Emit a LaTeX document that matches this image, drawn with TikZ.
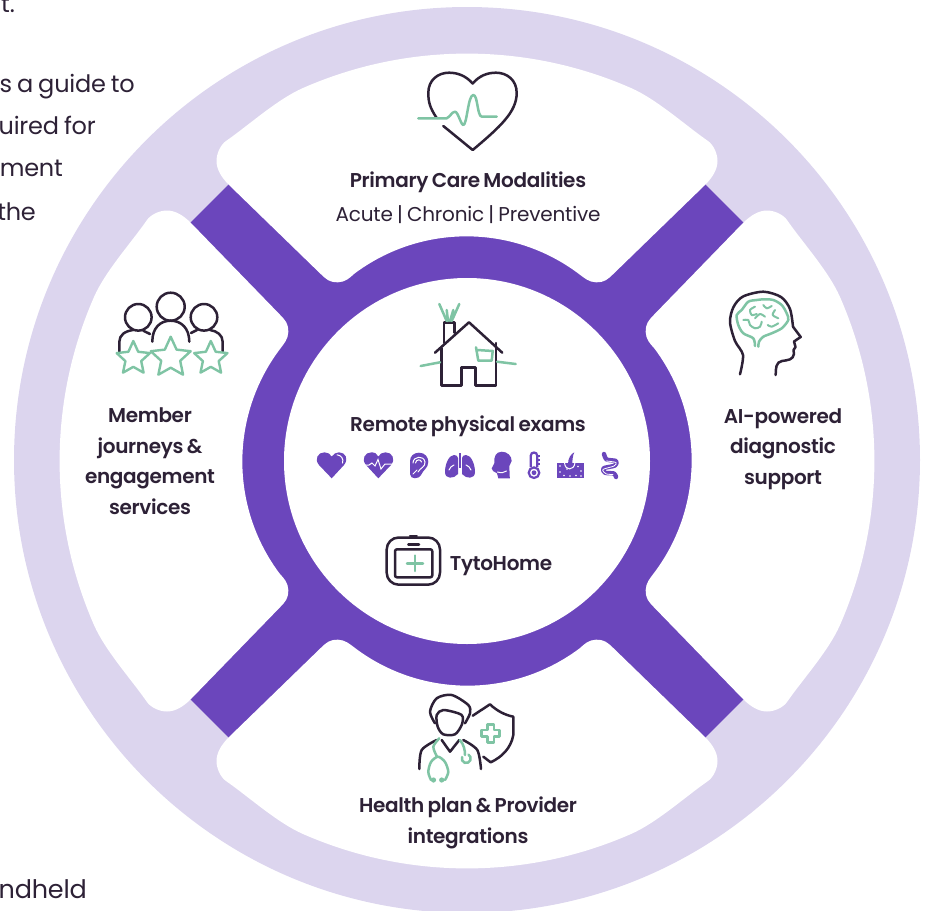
\documentclass[tikz,border=0pt]{standalone}
\usepackage{fontspec}
\setmainfont[LetterSpace=-0.9,WordSpace=0.8]{Poppins}
\newfontfamily\medfont[LetterSpace=-1.6,WordSpace=0.75]{Poppins SemiBold}
\usetikzlibrary{shapes.geometric}
\definecolor{wheelpurple}{HTML}{6B46BC}
\definecolor{wheellilac}{HTML}{DCD5EE}
\definecolor{icondark}{HTML}{2D2136}
\definecolor{icongreen}{HTML}{7FC4A4}
\tikzset{
	darkline/.style={draw=icondark,line width=2.5pt,line cap=round,line join=round},
	greenline/.style={draw=icongreen,line width=2.5pt,line cap=round,line join=round},
	smallfill/.style={fill=wheelpurple,draw=none},
	whitecut/.style={draw=white,line width=1pt,line cap=round},
	headtext/.style={text=icondark,font=\medfont\fontsize{20}{30.5}\selectfont,align=center,inner sep=0pt},
	subtext/.style={text=icondark,font=\fontsize{20}{30.5}\selectfont,inner sep=0pt},
	backtext/.style={text=icondark,font=\fontsize{24}{30}\selectfont,inner sep=0pt,anchor=base east},
	ratestar/.style={star,star points=5,star point ratio=2.1,draw=icongreen,line width=2.4pt,line join=round,inner sep=0pt},
}
\begin{document}
\begin{tikzpicture}[x=1pt,y=-1pt]
	\useasboundingbox (0,0) rectangle (930,911);
	% cut off text behind the wheel
	\node[backtext] (backa) at (15,12) {t.};
	\node[backtext] (backb) at (135,92) {s a guide to};
	\node[backtext] (backc) at (96,134) {uired for};
	\node[backtext] (backd) at (63,176) {ment};
	\node[backtext] (backe) at (36,220) {the};
	\node[backtext,font=\fontsize{25.5}{30}\selectfont] (backf) at (87,898) {ndheld};

	% the wheel
	\fill[wheellilac] (467,460) circle (453);
	\begin{scope}[shift={(467,461)}]
		\fill[wheelpurple] (0,0) circle (240);
		\foreach \a in {45,135}
			\fill[wheelpurple,rotate=\a] (-364,-29) rectangle (364,29);
		\foreach \a in {0,90,180,270}
			\fill[white,rotate=\a] (-238,-276)
				.. controls (-246,-284) and (-250.5,-292) .. (-250.5,-300)
				.. controls (-250.5,-308) and (-246,-316.6) .. (-241,-320)
				.. controls (-218,-336) and (-189.6,-361.8) .. (-164,-373)
				arc[start angle=246.3,end angle=293.7,radius=408]
				.. controls (189.6,-361.8) and (218,-336) .. (241,-320)
				.. controls (246,-316.6) and (250.5,-308) .. (250.5,-300)
				.. controls (250.5,-292) and (246,-284) .. (238,-276)
				-- (147,-187.7)
				.. controls (140,-181) and (137.7,-178.7) .. (129,-178.7)
				.. controls (122,-178.7) and (116.8,-183.4) .. (112,-187)
				arc[start angle=307,end angle=233,radius=187]
				.. controls (-116.8,-183.4) and (-122,-178.7) .. (-129,-178.7)
				.. controls (-137.7,-178.7) and (-140,-181) .. (-147,-187.7)
				-- cycle;
		\fill[white] (0,0) circle (183);
	\end{scope}

	% texts
	\node[headtext,anchor=base] (primary) at (468,187) {Primary Care Modalities};
	\node[subtext,anchor=base] (modes) at (468,221) {Acute | Chronic | Preventive};
	\node[headtext,anchor=base] (remote) at (468,431) {Remote physical exams};
	\node[headtext,anchor=base] (tyto) at (501,570) {TytoHome};
	\node[headtext] (member) at (150,461) {Member\\journeys \&\\engagement\\services};
	\node[headtext] (diagnostic) at (783,449) {AI-powered\\diagnostic\\support};
	\node[headtext] (plan) at (468,823) {Health plan \& Provider\\integrations};

	% heart
	\draw[darkline] (436.7,118) .. controls (430,108) and (428.3,102) .. (428.3,93)
		.. controls (428.3,80) and (438,72.7) .. (449,72.7)
		.. controls (458,72.7) and (466,76) .. (472.7,83.5)
		.. controls (479,76) and (487,72.7) .. (496,72.7)
		.. controls (507,72.7) and (516.7,80) .. (516.7,93)
		.. controls (516.7,112) and (500,127) .. (472.7,150) -- (443.3,126);
	\draw[greenline] (418.3,118.3) -- (446.7,118.3)
		.. controls (450,117) and (452,111.7) .. (455,111.7)
		.. controls (458,111.7) and (461,125) .. (463.3,125)
		.. controls (467,125) and (468,95) .. (473.3,95)
		.. controls (478,95) and (477,116.7) .. (482,116.7) -- (496.7,116.7);

	% house
	\draw[darkline] (435,352.7) -- (469,322.3) -- (502.3,352.7);
	\draw[darkline] (441.3,348) -- (441.3,385.7) -- (461.3,385.7) -- (461.3,367.3)
		-- (475.7,367.3) -- (475.7,385.7) -- (496,385.7) -- (496,343);
	\draw[darkline] (444,342.7) -- (444,322.7) -- (454.7,322.7) -- (454.7,332.7);
	\draw[greenline] (439.3,304) -- (446.7,321)  (459.3,304) -- (451.7,321)
		(446.7,310) -- (448,321)  (453.3,310) -- (450,321);
	\draw[greenline] (420.7,366) -- (440,362.3)  (497,361.7) -- (515.7,364);
	\draw[greenline] (476,347.3) -- (478.3,360.7) -- (491.7,360.7) -- (492.7,351) -- (477.3,350);

	% small exam icons
	\fill[smallfill] (331.7,478.3) -- (319,465) .. controls (314,459) and (318,452.3) .. (324.5,452.3)
		.. controls (328,452.3) and (330,454) .. (331.7,456.5)
		.. controls (333.5,454) and (336,452.3) .. (339,452.3)
		.. controls (345.5,452.3) and (349,459) .. (344,465) -- cycle;
	\draw[whitecut] (337,454.8) .. controls (341,455) and (344,459) .. (342.5,463);
	\fill[smallfill] (378.3,478.3) -- (366,465) .. controls (361,459) and (365,452.3) .. (371.5,452.3)
		.. controls (375,452.3) and (377,454) .. (378.3,456.5)
		.. controls (380,454) and (382,452.3) .. (385.5,452.3)
		.. controls (392,452.3) and (396,459) .. (391,465) -- cycle;
	\draw[whitecut] (364,465) -- (369,465) -- (372,463) -- (375,466) -- (378,459.5) -- (381,469) -- (385,464) -- (393,464);
	% ear
	\fill[smallfill] (419,452.7) .. controls (425,452.7) and (428.3,457) .. (428.3,462)
		.. controls (428.3,468) and (423,470) .. (421,475) .. controls (419.5,479) and (410,480) .. (410,474)
		-- (410,461) .. controls (410,456) and (414,452.7) .. (419,452.7) -- cycle;
	\draw[whitecut] (413,463) .. controls (413,456) and (424,455) .. (425,462) .. controls (425.5,467) and (420,468) .. (418,472)
		(415.5,463) .. controls (416,459) and (421,459) .. (421.5,462);
	\draw[whitecut] (413,474) -- (417,470);
	% lungs
	\fill[smallfill] (458,458) -- (458,474) .. controls (454,479) and (445,479.5) .. (445,472)
		.. controls (445,464) and (449,455) .. (454,455) .. controls (456,455) and (458,456) .. (458,458) -- cycle;
	\fill[smallfill] (462,458) -- (462,474) .. controls (466,479) and (475,479.5) .. (475,472)
		.. controls (475,464) and (471,455) .. (466,455) .. controls (464,455) and (462,456) .. (462,458) -- cycle;
	\draw[draw=wheelpurple,line width=1.2pt] (460,453) -- (460,468);
	\draw[whitecut] (449,470) .. controls (450,467) and (452,466) .. (454,465)
		(471,470) .. controls (470,467) and (468,466) .. (466,465);
	% head
	\fill[smallfill] (501.7,451.7) .. controls (507.5,451.7) and (511.7,456) .. (511.7,461)
		-- (509.3,466) -- (509.8,478.3) -- (498.3,478.3) -- (497,473.3) -- (493,471) -- (491.7,468.3)
		-- (494.5,463) .. controls (493.5,457) and (496,451.7) .. (501.7,451.7) -- cycle;
	\draw[whitecut] (497.5,472) .. controls (501,473) and (504,473) .. (506.5,471);
	% thermometer
	\draw[draw=wheelpurple,line width=2.2pt] (530.8,467) -- (530.8,455.5) .. controls (530.8,451.5) and (537.2,451.5) .. (537.2,455.5) -- (537.2,467);
	\draw[draw=wheelpurple,line width=2.2pt] (534,472.7) circle (5.3);
	\fill[smallfill] (534,472.7) circle (2.4);
	\draw[draw=wheelpurple,line width=1.5pt] (537,456) -- (540,456) (537,460) -- (540,460) (537,464) -- (540,464);
	% skin
	\fill[smallfill] (556.7,462.7) rectangle (584,478.3);
	\foreach \x/\y in {560/466,560/472,564/475.5,567/469,578/466.5,581/471,576/475.5,570/476,581/476}
		\fill[white] (\x,\y) circle (0.8);
	\draw[whitecut] (564.5,462.7) .. controls (565,471) and (574,471) .. (575,462.7);
	\fill[smallfill] (568,464) .. controls (568,458) and (571,454) .. (574.3,452.3)
		.. controls (572.5,456) and (572.5,460) .. (572,466) -- cycle;
	% intestine
	\draw[draw=wheelpurple,line width=4.4pt,line cap=round,line join=round] plot[smooth] coordinates {(604,454) (606.7,459.5) (616,461) (615,465.5) (603.5,468.3) (605,472.7) (614,473.5) (616,477)};
	\draw[whitecut,line width=.8pt] plot[smooth] coordinates {(606.5,461) (616,462.5) (614,466) (603,469.5) (606,473.8) (613,474.5)};

	% device
	\draw[darkline,rounded corners=12pt] (386.7,537.5) rectangle (440,584.7);
	\draw[darkline,rounded corners=2pt] (395,549.3) rectangle (432.3,577.3);
	\draw[darkline] (410,536) -- (416.7,536)  (408.3,544.3) -- (419,544.3);
	\draw[greenline] (407,563.3) -- (423,563.3)  (415,555.5) -- (415,571);

	% member icon
	\draw[darkline] (170.7,306.7) circle (14);
	\draw[darkline] (138.3,317.3) circle (13.3);
	\draw[darkline] (204,317.3) circle (13.3);
	\draw[darkline] (152.3,341.7) .. controls (152.3,328) and (160,320.7) .. (170.7,320.7)
		.. controls (181,320.7) and (189.3,328) .. (189.3,341.7);
	\draw[darkline] (119.3,351.7) -- (119.3,342) .. controls (119.3,335) and (125,331) .. (133.3,330);
	\draw[darkline] (143.3,330.7) -- (150,334);
	\draw[darkline] (222.7,351.7) -- (222.7,342) .. controls (222.7,335) and (217,331) .. (210,330);
	\draw[darkline] (197,330) -- (191,333);
	\node[ratestar,minimum size=35pt] (stara) at (133.3,358.5) {};
	\node[ratestar,minimum size=42pt] (starb) at (170.7,357.7) {};
	\node[ratestar,minimum size=35pt] (starc) at (210.8,358.5) {};

	% brain icon
	\draw[darkline] plot[smooth] coordinates {(740,374.3) (743,355) (735,341) (730,322) (733.5,307) (743,296.5) (763.3,291.7) (781,297) (790,309) (793,326.7)};
	\draw[darkline] (793,326.7) -- (800.7,337) -- (794,341.5) -- (795.5,347) -- (793.5,350) -- (794,354)
		.. controls (793,360) and (788,360) .. (782,361) .. controls (776,362) and (775.7,368) .. (775.7,375);
	\draw[greenline] plot[smooth] coordinates {(755,346) (753.3,338.3) (743.3,333.3) (738.3,325) (736.7,315) (741.7,310) (748.3,301.7) (756.7,300) (764,299.3) (773.3,300) (781.7,305) (786.7,313.3) (788.3,320) (781.7,328.3) (771.7,333.3) (763.3,336.7) (759,341.7) (758.3,346.7)};
	\draw[greenline,line width=2pt] plot[smooth] coordinates {(755,306.7) (750,310) (751.7,315) (756.7,314)};
	\draw[greenline,line width=2pt] plot[smooth] coordinates {(743.3,320) (748.3,320) (750,325) (755,328.3) (760,326.7) (761.7,321.7)};
	\draw[greenline,line width=2pt] plot[smooth] coordinates {(755,318.3) (760,314) (765,316.7)};
	\draw[greenline,line width=2pt] plot[smooth] coordinates {(763.3,305) (766.7,308.3) (771.7,306)};
	\draw[greenline,line width=2pt] plot[smooth] coordinates {(775,310) (772.7,315) (778.3,318.3)};
	\draw[greenline,line width=2pt] plot[smooth] coordinates {(767.7,325) (771.7,326.7) (778.3,323.3)};

	% doctor icon
	\draw[darkline] plot[smooth] coordinates {(435,723.3) (430,711.7) (436.7,698.3) (451.7,695) (468.3,705) (470,713.3) (465,723.3)};
	\draw[darkline] plot[smooth cycle] coordinates {(436.7,715) (443.3,710) (458.3,713.3) (462.7,716.7) (461.7,725) (455,734.3) (443.3,734.3) (437.7,726.7)};
	\draw[darkline] (441.7,740) -- (450,751.7) -- (459.3,740);
	\draw[darkline] plot[smooth] coordinates {(419.3,769) (421.7,750) (436.7,740)};
	\draw[darkline] plot[smooth] coordinates {(481,769) (477.3,750) (463.3,740)};
	\draw[greenline] plot[smooth] coordinates {(439.3,738.3) (433.3,746.7) (437,756.7)};
	\draw[greenline] plot[smooth] coordinates {(431,780) (428.3,772) (431,762) (438,756.7) (445,762) (448.3,772) (445,780)};
	\fill[icongreen] (433.5,780) circle (2.6) (441.7,780) circle (2.6);
	\draw[greenline] (460,740) .. controls (464,745) and (465,750) .. (465,755);
	\draw[greenline] (462,757) arc[start angle=200,end angle=-60,radius=4.5];
	\draw[darkline] (472.7,715.7) -- (490,704.3) .. controls (497,711) and (505,715) .. (513.3,716.7)
		-- (513.3,735) .. controls (511,748) and (502,757) .. (490.7,762.3) -- (483.3,756.7);
	\draw[greenline] (487.5,724.3) -- (494,724.3) -- (494,730) -- (499.7,730) -- (499.7,736.5) -- (494,736.5)
		-- (494,742.3) -- (487.5,742.3) -- (487.5,736.5) -- (481.7,736.5) -- (481.7,730) -- (487.5,730) -- cycle;
\end{tikzpicture}
\end{document}
